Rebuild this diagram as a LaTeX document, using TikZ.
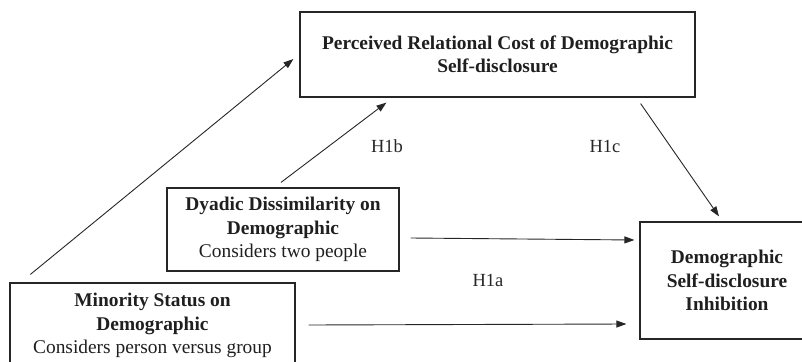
\documentclass[tikz,border=0pt]{standalone}
\usepackage{fontspec}
\setmainfont{Liberation Serif}
\usetikzlibrary{arrows.meta}
\begin{document}
\begin{tikzpicture}[x=1pt,y=-1pt,
  box/.style={draw=black!85, text=black!88, line width=1.2pt, inner sep=0pt, align=center,
    font=\fontsize{19.4}{23.5}\selectfont},
  conn/.style={draw=black!85, line width=0.9pt, -{Triangle[length=10pt,width=7pt]}},
  lab/.style={text=black!85, font=\fontsize{18.5}{22}\selectfont, inner sep=0pt}]
\useasboundingbox (0,0) rectangle (802,361);
\node[box, minimum width=395pt, minimum height=85pt] (top) at (497.5,54.5)
  {\textbf{Perceived Relational Cost of Demographic}\\\textbf{Self-disclosure}};
\node[box, minimum width=232pt, minimum height=83pt] (dy) at (283,229.5)
  {\textbf{Dyadic Dissimilarity on}\\\textbf{Demographic}\\Considers two people};
\node[box, minimum width=285pt, minimum height=85pt] (min) at (152.5,325.5)
  {\textbf{Minority Status on}\\\textbf{Demographic}\\Considers person versus group};
\node[box, minimum width=174pt, minimum height=117pt] (out) at (727,280.5)
  {\textbf{Demographic}\\\textbf{Self-disclosure}\\\textbf{Inhibition}};
\draw[conn] ([shift={(21,-8)}]min.north west) -- ([shift={(-6,4.5)}]top.west);
\draw[conn] ([shift={(-2,-5)}]dy.north) -- ([shift={(87,5)}]top.south west);
\draw[conn] ([shift={(-55,6)}]top.south east) -- ([shift={(-8,-5)}]out.north);
\draw[conn] ([shift={(11,8.5)}]dy.east) -- ([shift={(-5,-40.5)}]out.west);
\draw[conn] ([shift={(13,-0.5)}]min.east) -- ([shift={(-13,43.5)}]out.west);
\node[lab] (h1b) at (387,146) {H1b};
\node[lab] (h1c) at (605,146) {H1c};
\node[lab] (h1a) at (488,280) {H1a};
\end{tikzpicture}
\end{document}
